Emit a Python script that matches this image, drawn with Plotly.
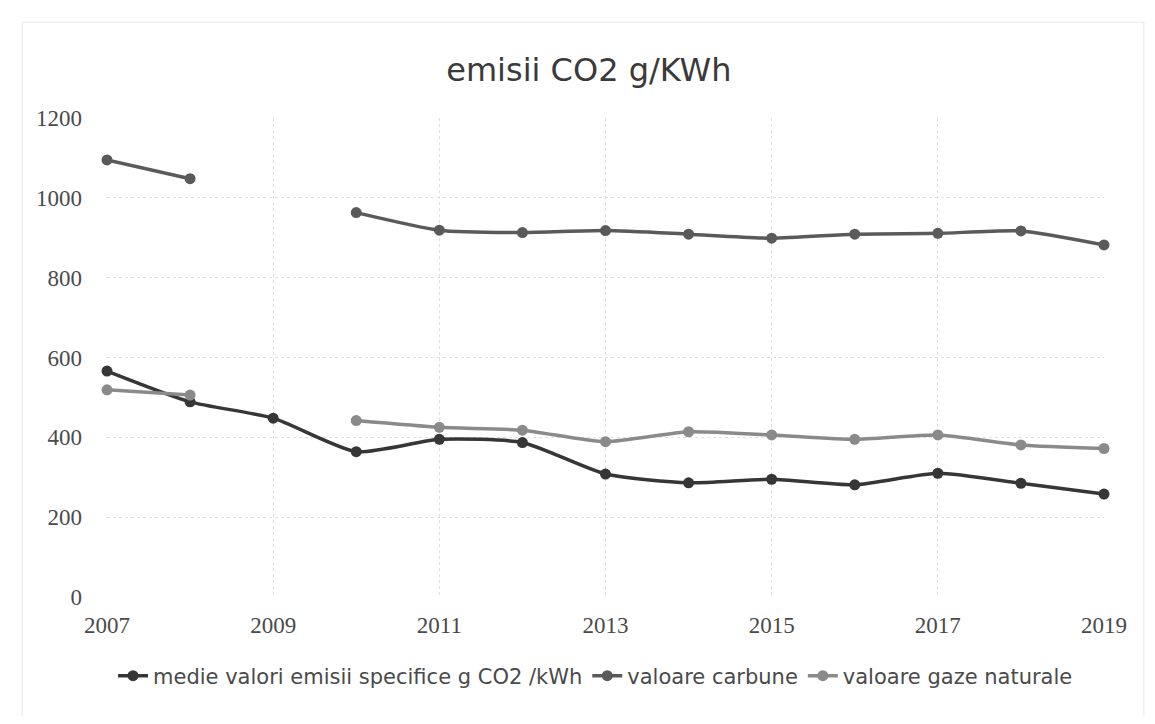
import plotly.graph_objects as go

years = list(range(2007, 2020))
medie = [566, 489, 448, 364, 395, 387, 308, 286, 295, 281, 310, 285, 258]
carbune = [1095, 1048, None, 963, 919, 913, 918, 909, 899, 909, 911, 917, 882]
gaze = [519, 506, None, 442, 425, 418, 389, 414, 406, 395, 406, 381, 372]

names = ["medie valori emisii specifice g CO2 /kWh", "valoare carbune", "valoare gaze naturale"]
colors = ["#363636", "#5a5a5a", "#8a8a8a"]

fig = go.Figure()
for name, vals, col in zip(names, [medie, carbune, gaze], colors):
    fig.add_trace(go.Scatter(
        x=years, y=vals, name=name, mode="lines+markers",
        line=dict(color=col, width=3.5, shape="spline", smoothing=0.6),
        marker=dict(color=col, size=11),
        connectgaps=False, cliponaxis=False,
    ))

fig.update_layout(
    width=1139, height=708,
    paper_bgcolor="white", plot_bgcolor="white",
    margin=dict(l=99, r=43, t=110, b=119),
    title=dict(text="emisii CO2 g/KWh", x=0.51, xanchor="center", y=0.913, yanchor="middle",
               font=dict(family="DejaVu Sans", size=32, color="#3a3a3a")),
    legend=dict(orientation="h", x=0.49, xanchor="center", y=-0.165, yanchor="middle",
                font=dict(family="DejaVu Sans", size=21, color="#4a4a4a"), traceorder="normal",
                itemwidth=30),
    showlegend=True,
)
fig.update_xaxes(range=[2007, 2019], tickmode="array", tickvals=[2007, 2009, 2011, 2013, 2015, 2017, 2019],
                 showgrid=True, gridcolor="#e0e0e0", griddash="dot", zeroline=False, showline=False,
                 tickfont=dict(family="Liberation Serif", size=23, color="#4a4a4a"), ticks="", ticklabelstandoff=12)
fig.update_yaxes(range=[0, 1200], dtick=200, showgrid=True, gridcolor="#e0e0e0", griddash="dot",
                 zeroline=False, showline=False,
                 tickfont=dict(family="Liberation Serif", size=23, color="#4a4a4a"), ticks="", ticklabelstandoff=24)
fig.add_shape(type="rect", xref="paper", yref="paper", x0=-0.085, x1=1.04, y0=-0.255, y1=1.2,
              line=dict(color="#e6e6e6", width=1))
fig.write_html("out.html")
